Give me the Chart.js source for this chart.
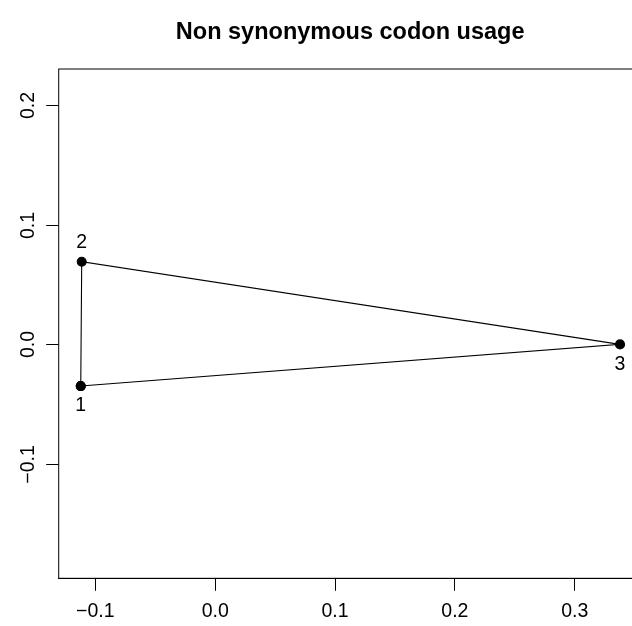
<!DOCTYPE html>
<html>
<head>
<meta charset="utf-8">
<script src="https://cdn.jsdelivr.net/npm/chart.js@4/dist/chart.umd.min.js"></script>
<style>
  html, body { margin: 0; padding: 0; background: #fff; overflow: hidden; }
  #wrap { width: 650px; height: 626px; }
</style>
</head>
<body>
<div id="wrap"><canvas id="c" width="650" height="626"></canvas></div>
<script>
// data
const pointLabels = ['1', '2', '3'];
const xValues = [-0.1122, -0.1114, 0.3378];
const yValues = [-0.0348, 0.0691, 0.0];
const labelSide = ['below', 'above', 'below'];

const xTicks = [-0.1, 0.0, 0.1, 0.2, 0.3];
const yTicks = [-0.1, 0.0, 0.1, 0.2];
const xRange = [-0.1306, 0.3558];
const yRange = [-0.1954, 0.2301];

const titleText = 'Non synonymous codon usage';
const FONT = '"Liberation Sans", Arial, Helvetica, sans-serif';

function fmt(v) {
  const s = v.toFixed(1);
  return v < 0 ? '\u2212' + s.slice(1) : s;
}

// closed triangle 1 -> 2 -> 3 -> 1
const order = [0, 1, 2, 0];
const pts = order.map(i => ({ x: xValues[i], y: yValues[i] }));

const rPlot = {
  id: 'rPlot',
  afterDraw(chart) {
    const ctx = chart.ctx;
    const a = chart.chartArea;
    const xs = chart.scales.x, ys = chart.scales.y;
    ctx.save();
    // box
    ctx.strokeStyle = '#000';
    ctx.lineWidth = 1;
    ctx.strokeRect(a.left, a.top, a.right - a.left, a.bottom - a.top);

    // y tick marks and rotated labels
    ctx.fillStyle = '#000';
    ctx.font = '19.5px ' + FONT;
    ctx.textAlign = 'center';
    ctx.textBaseline = 'middle';
    yTicks.forEach(v => {
      const py = Math.round(ys.getPixelForValue(v)) + 0.5;
      ctx.beginPath();
      ctx.moveTo(a.left, py);
      ctx.lineTo(a.left - 12.5, py);
      ctx.stroke();
      ctx.save();
      ctx.translate(29, py);
      ctx.rotate(-Math.PI / 2);
      ctx.fillText(fmt(v), 0, 0);
      ctx.restore();
    });

    // point labels
    pointLabels.forEach((lab, i) => {
      const px = xs.getPixelForValue(xValues[i]);
      const py = ys.getPixelForValue(yValues[i]);
      const dy = labelSide[i] === 'above' ? -19 : 20;
      ctx.fillText(lab, px, py + dy);
    });

    // title
    ctx.font = 'bold 23.5px ' + FONT;
    ctx.fillText(titleText, (a.left + a.right) / 2, 33);
    ctx.restore();
  }
};

new Chart(document.getElementById('c'), {
  type: 'scatter',
  data: {
    datasets: [{
      data: pts,
      showLine: true,
      borderColor: '#000',
      borderWidth: 1.1,
      backgroundColor: '#000',
      pointBackgroundColor: '#000',
      pointBorderColor: '#000',
      pointRadius: 4.5,
      pointHoverRadius: 4.5,
      tension: 0
    }]
  },
  options: {
    responsive: false,
    animation: false,
    devicePixelRatio: 1,
    events: [],
    layout: { padding: { top: 69, right: 650 - 641.6, bottom: 0, left: 0 } },
    plugins: { legend: { display: false }, tooltip: { enabled: false }, title: { display: false } },
    scales: {
      x: {
        type: 'linear',
        min: xRange[0], max: xRange[1],
        afterBuildTicks: s => { s.ticks = xTicks.map(v => ({ value: v })); },
        afterFit: s => { s.height = 626 - 578.3; },
        grid: { drawOnChartArea: false, drawTicks: true, tickLength: 12.5, color: '#000', lineWidth: 1 },
        border: { display: true, color: '#000', width: 1 },
        ticks: {
          color: '#000',
          font: { family: FONT, size: 19.5 },
          padding: 9,
          maxRotation: 0,
          autoSkip: false,
          callback: v => fmt(v)
        }
      },
      y: {
        type: 'linear',
        min: yRange[0], max: yRange[1],
        afterBuildTicks: s => { s.ticks = yTicks.map(v => ({ value: v })); },
        afterFit: s => { s.width = 58.7; },
        grid: { display: false },
        border: { display: false },
        ticks: { display: false }
      }
    }
  },
  plugins: [rPlot]
});
</script>
</body>
</html>
